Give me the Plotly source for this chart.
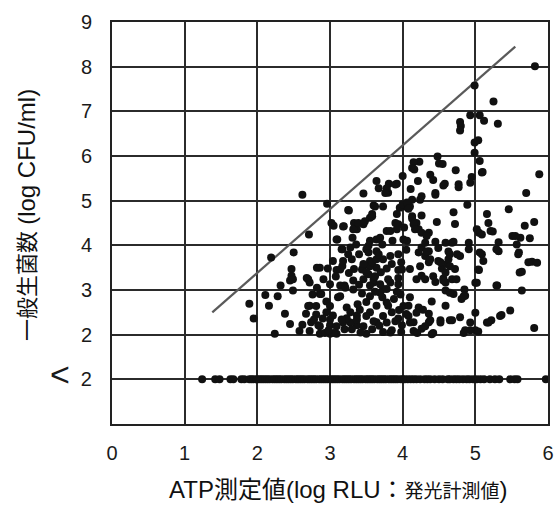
import plotly.graph_objects as go

# ---- data ----
x_ticks = [0, 1, 2, 3, 4, 5, 6]
y_tickvals = [1, 2, 3, 4, 5, 6, 7, 8, 9]
y_ticktext = ["<span style='font-size:34px'>&lt;</span>&nbsp;&nbsp;2", "2", "3", "4", "5", "6", "7", "8", "9"]

# detected counts (log CFU/ml) vs ATP (log RLU)
cloud_points = [
    (5.82, 8.01), (4.99, 7.58), (5.25, 7.22), (4.93, 6.91), (5.06, 6.91), (5.12, 6.79), (5.31, 6.72),
    (4.79, 6.76), (4.80, 6.67), (4.79, 6.57), (4.99, 6.30), (5.04, 6.35), (4.99, 6.07), (5.06, 5.89),
    (5.10, 5.64), (4.95, 5.53), (5.88, 5.59), (4.48, 5.99), (4.50, 5.83), (4.55, 5.82), (4.23, 5.87),
    (4.15, 5.86), (4.13, 5.73), (4.16, 5.70), (4.73, 5.68), (4.38, 5.58), (4.00, 5.55), (3.64, 5.44),
    (3.81, 5.38), (3.92, 5.38), (4.21, 5.44), (4.42, 5.46), (4.58, 5.38), (4.77, 5.37), (4.93, 5.40),
    (2.62, 5.13), (5.70, 5.17), (5.09, 5.63), (4.77, 5.30), (4.56, 5.34), (4.45, 5.17), (4.26, 5.10),
    (4.11, 5.26), (3.46, 5.16), (3.67, 5.28), (3.80, 5.18),
    (3.90, 5.36), (2.96, 4.93), (3.78, 5.28), (3.26, 4.78), (3.60, 4.89), (3.55, 4.62), (3.58, 4.65),
    (3.33, 4.50), (3.05, 4.44), (3.19, 4.43), (3.46, 4.47), (3.37, 4.36), (3.78, 4.32), (2.71, 4.24),
    (3.10, 4.13), (3.31, 4.17), (3.55, 4.10), (3.64, 4.13), (3.69, 4.17), (2.50, 3.84), (2.19, 3.73),
    (3.17, 3.91), (3.28, 3.95), (3.25, 3.80), (3.50, 3.91), (3.64, 3.87), (3.73, 3.69), (3.55, 3.65),
    (3.04, 3.65), (2.86, 3.50), (2.97, 3.48), (3.09, 3.45), (3.17, 3.54), (3.33, 3.47), (3.46, 3.53),
    (3.64, 3.50), (3.78, 3.48), (2.47, 3.47), (2.47, 3.32), (2.45, 3.21), (2.68, 3.27), (2.72, 3.17),
    (2.32, 3.10), (2.49, 2.99), (3.00, 3.13), (3.20, 3.10), (3.32, 3.21), (3.46, 3.24), (3.60, 3.17),
    (3.73, 3.02), (2.11, 2.89), (2.28, 2.86), (1.89, 2.69), (2.16, 2.65), (2.86, 2.91), (3.11, 2.84),
    (2.95, 2.74), (2.72, 2.65), (2.81, 2.64), (3.23, 2.61), (3.50, 2.73), (3.64, 2.65), (2.38, 2.47),
    (1.95, 2.36), (2.67, 2.47), (2.95, 2.50), (3.04, 2.43), (3.37, 2.43), (3.55, 2.50), (2.45, 2.24),
    (2.74, 2.28), (2.84, 2.21), (3.00, 2.21), (3.18, 2.27), (3.37, 2.21), (3.64, 2.28), (2.24, 2.02),
    (2.86, 2.02), (3.00, 2.02), (3.09, 2.02), (3.50, 2.02), (3.73, 2.06),
    (5.46, 4.81), (5.16, 4.70), (5.18, 4.50), (5.24, 4.31), (5.05, 4.28), (5.09, 4.24), (5.68, 4.44),
    (5.81, 4.52), (5.51, 4.21), (5.62, 4.17), (5.75, 4.16), (5.32, 4.07), (5.32, 3.87), (5.09, 3.80),
    (5.11, 3.65), (5.05, 3.45), (5.60, 3.84), (5.78, 3.63), (5.85, 3.61), (5.64, 3.41), (5.00, 3.16),
    (5.30, 3.10), (5.64, 2.99), (5.48, 2.54), (5.36, 2.44), (5.22, 2.32), (5.16, 2.27), (5.00, 2.49),
    (5.81, 2.15), (5.00, 2.10), (4.93, 2.10), (4.86, 2.10), (4.79, 2.39), (4.68, 2.32), (4.52, 2.32),
    (4.36, 2.28), (4.36, 2.47), (4.59, 2.65), (4.40, 2.74), (4.86, 2.87), (4.81, 2.80), (4.70, 2.91),
    (4.85, 3.01), (4.59, 2.99), (4.59, 3.17), (4.45, 3.18), (4.56, 3.26), (4.68, 3.24), (4.19, 3.24),
    (4.26, 3.32), (4.10, 3.47), (3.94, 3.45), (4.54, 3.48), (4.72, 3.47), (4.61, 3.58), (4.63, 3.69),
    (4.49, 3.65), (4.36, 3.62), (4.31, 3.76), (4.75, 3.80), (4.65, 3.80), (4.22, 3.84), (3.94, 3.80),
    (4.26, 3.95), (4.36, 3.87), (4.59, 4.06), (4.68, 4.06), (4.91, 4.06), (4.31, 4.06), (4.06, 4.10),
    (4.01, 4.13), (4.36, 4.28), (4.22, 4.36), (4.19, 4.50), (3.83, 4.32), (3.94, 4.47), (4.13, 4.65),
    (4.26, 4.67), (4.47, 4.52), (4.72, 4.48), (4.70, 4.74), (4.89, 4.91), (4.45, 5.13), (4.03, 4.87),
    (3.96, 4.84), (4.10, 4.87), (4.13, 5.02), (4.24, 5.02), (3.76, 5.17),
    (3.80, 2.65), (3.85, 2.50), (3.94, 2.36), (3.99, 2.21), (4.10, 2.84), (4.08, 2.65), (4.22, 2.61),
    (4.15, 2.28), (4.26, 2.13), (4.42, 2.04), (3.85, 2.10), (3.78, 3.02), (3.83, 3.17), (3.94, 3.13),
    (3.92, 4.70), (4.13, 4.60), (4.15, 4.47), (4.17, 4.36), (4.26, 4.28), (4.33, 4.21), (3.99, 3.46),
    (3.94, 3.27), (3.97, 2.90), (4.01, 2.64), (4.08, 2.42), (4.15, 2.08), (4.40, 2.01), (3.83, 2.05),
    (3.78, 2.27), (3.73, 2.42), (3.78, 2.72), (3.69, 2.94), (3.55, 2.86), (3.41, 2.56), (3.50, 2.42),
    (3.60, 2.30), (3.46, 2.19), (3.28, 2.27), (3.37, 2.34), (3.23, 2.37), (3.09, 2.19), (3.05, 2.04),
    (2.93, 2.04), (2.86, 2.19), (2.72, 2.08), (3.00, 2.34), (2.81, 2.45), (2.70, 2.64), (3.00, 2.64),
    (3.14, 2.86), (3.14, 3.10), (2.91, 3.24), (3.21, 3.05), (3.32, 3.01), (3.55, 3.10), (3.60, 3.24),
    (3.69, 3.13), (3.80, 3.24), (3.44, 3.46), (3.55, 3.53), (3.53, 3.35), (3.62, 3.31), (3.14, 3.46),
    (3.18, 3.65), (3.30, 3.69), (3.46, 3.58), (3.58, 3.62), (3.64, 3.69), (3.83, 3.76), (3.67, 3.80),
    (3.53, 3.84), (3.53, 3.99), (3.16, 3.91), (3.09, 4.13), (3.18, 4.42), (3.32, 4.36), (3.39, 4.50),
    (3.48, 4.54), (3.58, 4.70), (3.92, 4.36), (3.90, 4.50), (3.73, 4.87), (3.25, 4.79), (3.62, 4.87),
    (3.02, 4.50), (2.82, 3.50), (2.70, 3.24), (2.49, 3.24), (2.88, 2.91),
    (5.02, 4.36), (5.29, 3.91), (5.06, 3.84), (5.04, 3.46), (5.02, 3.16), (5.29, 3.10), (4.93, 2.27),
    (4.84, 2.04), (5.04, 2.07), (5.18, 2.27), (5.34, 2.42), (5.61, 3.39), (5.73, 3.62), (5.59, 3.80),
    (5.57, 4.02), (5.55, 4.21), (5.21, 4.32), (4.91, 3.91), (4.79, 3.76), (4.74, 3.24), (4.65, 2.94),
    (4.84, 2.86), (4.65, 2.32), (4.52, 2.27), (4.38, 2.32), (4.31, 2.19), (4.10, 2.27), (4.28, 2.56),
    (4.19, 2.49), (4.56, 3.21), (4.59, 3.39), (4.42, 3.31), (4.31, 3.24), (4.24, 3.53), (4.38, 3.69),
    (4.52, 3.62), (4.65, 3.53), (4.63, 3.86), (4.49, 3.94), (4.33, 3.86), (4.45, 4.08), (4.70, 4.08),
    (3.30, 2.12), (3.42, 2.05), (3.58, 2.12), (3.68, 2.20), (3.90, 2.30), (3.95, 2.55), (3.88, 2.80),
    (3.72, 2.84), (3.62, 2.96), (3.44, 2.92), (3.38, 2.68), (3.28, 2.50), (3.16, 2.34), (3.20, 2.12),
    (2.98, 2.10), (2.90, 2.36), (2.78, 2.34), (2.62, 2.22), (2.58, 2.08), (2.76, 2.90), (2.82, 3.05),
    (3.08, 3.30), (3.26, 3.38), (3.40, 3.12), (3.50, 3.40), (3.70, 3.40), (3.85, 3.58), (3.98, 3.62),
    (4.05, 3.90), (4.02, 4.40), (3.86, 4.10), (3.72, 4.02), (3.40, 3.80), (3.36, 4.02), (3.98, 2.06),
    (4.20, 2.04), (4.05, 2.46), (3.92, 2.96), (4.00, 4.92), (4.06, 4.96), (4.08, 4.82),
]
cloud_x = [p[0] for p in cloud_points]
cloud_y = [p[1] for p in cloud_points]

# below detection limit (<2) row
below_x = [
    1.24, 1.42, 1.48, 1.63, 1.67, 1.78, 1.82, 1.89, 1.92, 1.95, 1.99, 2.02, 2.05, 2.08, 2.11, 2.14,
    2.17, 2.21, 2.24, 2.27, 2.30, 2.33, 2.37, 2.40, 2.43, 2.46, 2.49, 2.53, 2.56, 2.59, 2.62, 2.65,
    2.69, 2.72, 2.75, 2.78, 2.81, 2.85, 2.88, 2.91, 2.94, 2.97, 3.01, 3.04, 3.07, 3.10, 3.13, 3.17,
    3.20, 3.23, 3.26, 3.29, 3.33, 3.36, 3.39, 3.42, 3.45, 3.49, 3.52, 3.55, 3.58, 3.61, 3.65, 3.68,
    3.71, 3.74, 3.77, 3.81, 3.84, 3.87, 3.90, 3.93, 3.97, 4.00, 4.03, 4.07, 4.11, 4.15, 4.19, 4.24,
    4.30, 4.34, 4.38, 4.44, 4.50, 4.55, 4.62, 4.65, 4.70, 4.74, 4.78, 4.83, 4.88, 4.92, 4.97, 5.02,
    5.07, 5.12, 5.20, 5.27, 5.33, 5.48, 5.54, 5.58, 5.97,
]
below_y = [1] * len(below_x)

# upper-limit reference line
line_x = [1.38, 5.55]
line_y = [2.50, 8.45]

fig = go.Figure()
fig.add_trace(go.Scatter(x=line_x, y=line_y, mode="lines",
                         line=dict(color="#5a5a5a", width=2.2), showlegend=False))
fig.add_trace(go.Scatter(x=cloud_x, y=cloud_y, mode="markers",
                         marker=dict(color="#111111", size=8), showlegend=False))
fig.add_trace(go.Scatter(x=below_x, y=below_y, mode="markers",
                         marker=dict(color="#111111", size=8), showlegend=False, cliponaxis=False))

tick_font = dict(family="Liberation Sans, Arial, sans-serif", size=20, color="#1a1a1a")
fig.update_xaxes(range=[0, 6], tickvals=x_ticks, showgrid=True, gridcolor="#2b2b2b", gridwidth=1.7,
                 zeroline=False, showline=True, mirror=True, linecolor="#222222", linewidth=2,
                 ticks="", tickfont=tick_font, ticklabelstandoff=10, automargin=False)
fig.update_yaxes(range=[0, 9], tickvals=y_tickvals, ticktext=y_ticktext, showgrid=True,
                 gridcolor="#2b2b2b", gridwidth=1.7, zeroline=False, showline=True, mirror=True,
                 linecolor="#222222", linewidth=2, ticks="", tickfont=tick_font, ticklabelstandoff=14,
                 automargin=False)

y_title_font = dict(family="Liberation Sans, Noto Sans CJK JP, sans-serif", size=22, color="#111111")
x_title_font = dict(family="Liberation Sans, Noto Sans CJK JP, sans-serif", size=24, color="#111111")
fig.add_annotation(text="一般生菌数 <span style='font-size:24px'>(log CFU/ml)</span>",
                   xref="paper", yref="paper", x=-0.195, y=0.52,
                   xanchor="center", yanchor="middle", textangle=-90, showarrow=False,
                   font=y_title_font)
fig.add_annotation(text="ATP測定値(log RLU：<span style='font-size:19px'>発光計測値</span>)",
                   xref="paper", yref="paper", x=0.52, y=-0.163, xanchor="center", yanchor="middle",
                   showarrow=False, font=x_title_font)

fig.update_layout(width=557, height=506, margin=dict(l=112, r=9, t=22, b=82),
                  plot_bgcolor="white", paper_bgcolor="white")
fig.write_html("out.html", config={"displayModeBar": False},
               post_script="document.body.style.margin='0';")
